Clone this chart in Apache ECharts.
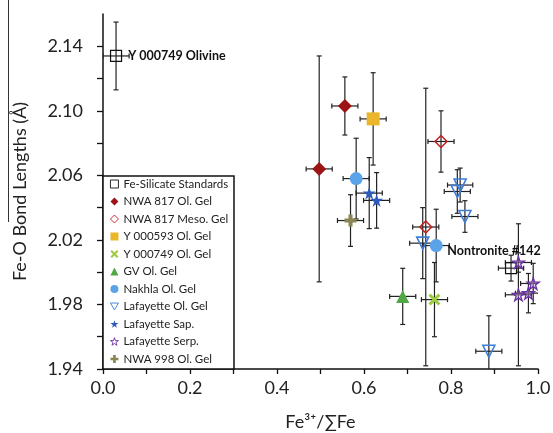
<!DOCTYPE html>
<html>
<head>
<meta charset="utf-8">
<script src="https://cdn.jsdelivr.net/npm/echarts@6/dist/echarts.min.js"></script>
<style>
html,body{margin:0;padding:0;background:#fff;}
#chart{width:553px;height:433px;}
</style>
</head>
<body>
<div id="chart"></div>
<script>
// ---- Data (x = Fe3+/ΣFe, y = Fe-O bond length, with ± errors) ----
const seriesNames = ['Fe-Silicate Standards','NWA 817 Ol. Gel','NWA 817 Meso. Gel','Y 000593 Ol. Gel','Y 000749 Ol. Gel','GV Ol. Gel','Nakhla Ol. Gel','Lafayette Ol. Gel','Lafayette Sap.','Lafayette Serp.','NWA 998 Ol. Gel'];

const feSilX = [0.030, 0.938];
const feSilY = [2.134, 2.0025];
const feSilXErr = [0.03, 0.029];
const feSilYErr = [0.021, 0.008];
const feSilLabels = ['Y 000749 Olivine', 'Nontronite #142'];

const nwa817OlX = [0.497, 0.556];
const nwa817OlY = [2.064, 2.103];
const nwa817OlXErr = [0.03, 0.03];
const nwa817OlYErr = [0.070, 0.018];

const nwa817MesoX = [0.777, 0.742];
const nwa817MesoY = [2.081, 2.028];
const nwa817MesoXErr = [0.03, 0.03];
const nwa817MesoYErr = [0.019, 0.086];

const y593X = [0.621];
const y593Y = [2.095];
const y593XErr = [0.03];
const y593YErr = [0.0286];

const y749X = [0.762];
const y749Y = [1.983];
const y749XErr = [0.03];
const y749YErr = [0.023];

const gvX = [0.689];
const gvY = [1.985];
const gvXErr = [0.03];
const gvYErr = [0.0174];

const nakhlaX = [0.582, 0.766];
const nakhlaY = [2.058, 2.0165];
const nakhlaXErr = [0.03, 0.03];
const nakhlaYErr = [0.025, 0.0225];

const lafOlX = [0.821, 0.8145, 0.832, 0.735, 0.887];
const lafOlY = [2.054, 2.050, 2.0345, 2.018, 1.951];
const lafOlXErr = [0.029, 0.03, 0.03, 0.03, 0.03];
const lafOlYErr = [0.0105, 0.0135, 0.0098, 0.022, 0.022];

const lafSapX = [0.612, 0.629];
const lafSapY = [2.049, 2.0445];
const lafSapXErr = [0.03, 0.03];
const lafSapYErr = [0.022, 0.0172];

const lafSerpX = [0.955, 0.989, 0.955, 0.978];
const lafSerpY = [2.006, 1.993, 1.986, 1.987];
const lafSerpXErr = [0.03, 0.029, 0.03, 0.03];
const lafSerpYErr = [0.006, 0.0125, 0.044, 0.0122];

const nwa998X = [0.569];
const nwa998Y = [2.032];
const nwa998XErr = [0.03];
const nwa998YErr = [0.016];

const xTicks = [0, 0.2, 0.4, 0.6, 0.8, 1.0];
const yTicks = [1.94, 1.98, 2.02, 2.06, 2.10, 2.14];

// ---- Styling ----
const STAR = 'path://M50,0 L61.17,34.63 L97.55,34.55 L68.07,55.87 L79.39,90.45 L50,69 L20.61,90.45 L31.93,55.87 L2.45,34.55 L38.83,34.63 Z';
const TRI_DOWN = 'path://M0,0 L20,0 L10,17.3 Z';
const PLUS = 'path://M33,0 L67,0 L67,33 L100,33 L100,67 L67,67 L67,100 L33,100 L33,67 L0,67 L0,33 L33,33 Z';
const CROSS = 'path://M18,0 L50,32 L82,0 L100,18 L68,50 L100,82 L82,100 L50,68 L18,100 L0,82 L32,50 L0,18 Z';

const groups = [
  {x: feSilX, y: feSilY, xe: feSilXErr, ye: feSilYErr, symbol: 'rect', size: 11, style: {color: 'rgba(255,255,255,0)', borderColor: '#111', borderWidth: 1.2}},
  {x: nwa817OlX, y: nwa817OlY, xe: nwa817OlXErr, ye: nwa817OlYErr, symbol: 'diamond', size: 14, style: {color: '#9C1515'}},
  {x: nwa817MesoX, y: nwa817MesoY, xe: nwa817MesoXErr, ye: nwa817MesoYErr, symbol: 'diamond', size: 12, style: {color: 'rgba(255,255,255,0)', borderColor: '#C41E1E', borderWidth: 1.5}},
  {x: y593X, y: y593Y, xe: y593XErr, ye: y593YErr, symbol: 'rect', size: 13, style: {color: '#ECB62A'}},
  {x: y749X, y: y749Y, xe: y749XErr, ye: y749YErr, symbol: CROSS, size: 12, style: {color: '#9CCB3E'}},
  {x: gvX, y: gvY, xe: gvXErr, ye: gvYErr, symbol: 'triangle', size: 13, style: {color: '#4FA745'}},
  {x: nakhlaX, y: nakhlaY, xe: nakhlaXErr, ye: nakhlaYErr, symbol: 'circle', size: 13, style: {color: '#5BA3E8'}},
  {x: lafOlX, y: lafOlY, xe: lafOlXErr, ye: lafOlYErr, symbol: TRI_DOWN, size: 12, style: {color: 'rgba(255,255,255,0)', borderColor: '#3E7DD8', borderWidth: 1.6}},
  {x: lafSapX, y: lafSapY, xe: lafSapXErr, ye: lafSapYErr, symbol: STAR, size: 13, style: {color: '#2E5BBA'}},
  {x: lafSerpX, y: lafSerpY, xe: lafSerpXErr, ye: lafSerpYErr, symbol: STAR, size: 12, style: {color: 'rgba(200,170,230,0.4)', borderColor: '#6B2FA3', borderWidth: 1.3}},
  {x: nwa998X, y: nwa998Y, xe: nwa998XErr, ye: nwa998YErr, symbol: PLUS, size: 12, style: {color: '#8A8552'}}
];

const FONT = 'Lato, "Open Sans", "DejaVu Sans", sans-serif';

const errData = [];
groups.forEach(g => g.x.forEach((xv, i) => errData.push([xv, g.y[i], g.xe[i], g.ye[i]])));

const series = [{
  type: 'custom',
  name: 'errors',
  clip: true,
  z: 1,
  silent: true,
  data: errData,
  renderItem: function (params, api) {
    const x = api.value(0), y = api.value(1), xe = api.value(2), ye = api.value(3);
    const c = api.coord([x, y]);
    const l = api.coord([x - xe, y]);
    const r = api.coord([x + xe, y]);
    const t = api.coord([x, y + ye]);
    const b = api.coord([x, y - ye]);
    const cap = 2.5;
    const st = {stroke: '#222', lineWidth: 1.2};
    const ln = (x1, y1, x2, y2) => ({type: 'line', shape: {x1, y1, x2, y2}, style: st});
    return {type: 'group', children: [
      ln(l[0], c[1], r[0], c[1]),
      ln(l[0], c[1] - cap, l[0], c[1] + cap),
      ln(r[0], c[1] - cap, r[0], c[1] + cap),
      ln(c[0], t[1], c[0], b[1]),
      ln(c[0] - cap, t[1], c[0] + cap, t[1]),
      ln(c[0] - cap, b[1], c[0] + cap, b[1])
    ]};
  }
}];

groups.forEach((g, gi) => {
  const s = {
    type: 'scatter',
    name: seriesNames[gi],
    z: 3,
    symbol: g.symbol,
    symbolSize: g.size,
    itemStyle: Object.assign({opacity: 1}, g.style),
    emphasis: {disabled: true},
    data: g.x.map((xv, i) => [xv, g.y[i]])
  };
  if (gi === 0) {
    s.data = g.x.map((xv, i) => ({value: [xv, g.y[i]], name: feSilLabels[i]}));
    s.label = {show: true, formatter: '{b}', fontFamily: FONT, fontWeight: 'bold', fontSize: 12.5, color: '#111'};
    s.data[0].label = {position: 'right', distance: 6};
    s.data[1].label = {position: 'inside', offset: [-17, -17]};
  }
  series.push(s);
});

const legendData = seriesNames.map((n, i) => {
  const st = groups[i].style;
  const d = {name: n};
  if (st.borderColor) {
    d.itemStyle = {borderWidth: 0.9, borderColor: st.borderColor, color: '#fff'};
    if (groups[i].symbol !== 'rect' && groups[i].symbol !== 'diamond') d.icon = groups[i].symbol;
  }
  return d;
});

const chart = echarts.init(document.getElementById('chart'), null, {renderer: 'canvas'});
chart.setOption({
  animation: false,
  backgroundColor: '#ffffff',
  grid: {left: 103, right: 15, top: 14, bottom: 64, containLabel: false, outerBoundsMode: 'none'},
  xAxis: {
    type: 'value', min: 0, max: 1, interval: 0.1,
    name: 'Fe³⁺/∑Fe', nameLocation: 'middle', nameGap: 44, nameMoveOverlap: false,
    nameTextStyle: {fontFamily: FONT, fontSize: 18, color: '#222'},
    axisLine: {show: true, onZero: false, lineStyle: {color: '#111', width: 1.5}},
    axisTick: {show: true, inside: false, length: 5, lineStyle: {color: '#111', width: 1.3}},
    axisLabel: {fontFamily: FONT, fontSize: 18, color: '#222', margin: 10,
      formatter: v => { const m = xTicks.find(t => Math.abs(t - v) < 1e-6); return m === undefined ? '' : m.toFixed(1); }},
    splitLine: {show: false}
  },
  yAxis: {
    type: 'value', min: 1.94, max: 2.16, interval: 0.02,
    name: 'Fe-O Bond Lengths (Å)', nameLocation: 'middle', nameGap: 74, nameMoveOverlap: false,
    nameTextStyle: {fontFamily: FONT, fontSize: 18, color: '#222'},
    axisLine: {show: true, onZero: false, lineStyle: {color: '#111', width: 1.5}},
    axisTick: {show: true, inside: false, length: 6, lineStyle: {color: '#111', width: 1.3}},
    axisLabel: {fontFamily: FONT, fontSize: 18, color: '#222', margin: 20, showMaxLabel: false,
      formatter: v => { const m = yTicks.find(t => Math.abs(t - v) < 1e-6); return m === undefined ? '' : m.toFixed(2); }},
    splitLine: {show: false}
  },
  legend: {
    show: true, orient: 'vertical', left: 110, top: 178, padding: 0, z: 10,
    itemWidth: 8, itemHeight: 8, itemGap: 5.5,
    data: legendData,
    textStyle: {fontFamily: FONT, fontSize: 11.5, color: '#222', lineHeight: 12},
    selectedMode: false
  },
  graphic: [
    {type: 'rect', z: 8, shape: {x: 103, y: 176, width: 131, height: 193}, style: {fill: '#fff', stroke: '#111', lineWidth: 1.5}},
    {type: 'line', z: 8, shape: {x1: 8.5, y1: 0, x2: 8.5, y2: 222}, style: {stroke: '#333', lineWidth: 1}}
  ],
  series: series
});
</script>
</body>
</html>
